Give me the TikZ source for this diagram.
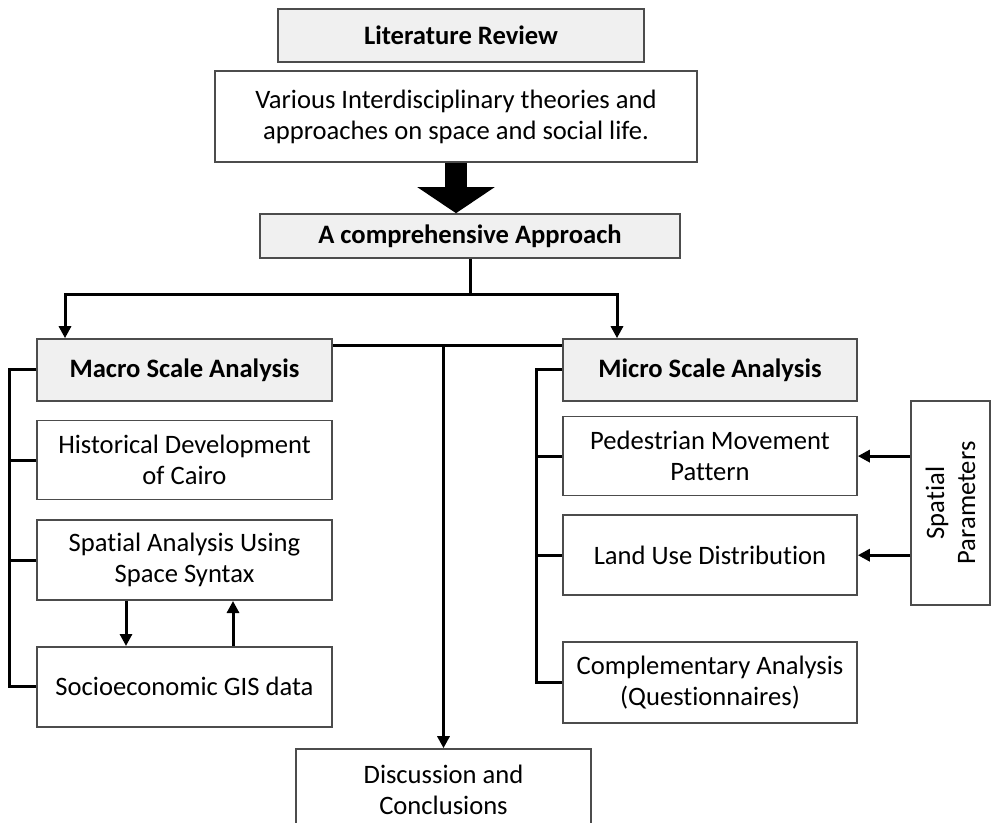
\documentclass[tikz,border=0pt]{standalone}
\usepackage{fontspec}
\setmainfont{Carlito}[Ligatures=NoCommon]
\usetikzlibrary{positioning, arrows.meta, calc}

\begin{document}
\begin{tikzpicture}[x=0.5pt, y=-0.5pt,
    box/.style={draw=black!70, line width=0.8pt, align=center, inner sep=2pt,
        font=\fontsize{13.3}{15.5}\selectfont},
    headbox/.style={box, fill=black!6, font=\bfseries\fontsize{13.3}{15.5}\selectfont},
    conn/.style={line width=1.5pt},
    arr/.style={conn, -{Triangle[length=6pt, width=6pt]}}]
    \useasboundingbox (0,0) rectangle (991,823);

    % Literature part
    \node[headbox, minimum width=183pt, minimum height=26.5pt] (lit) at (461,35.5) {Literature Review};
    \node[box, minimum width=241pt, minimum height=45.5pt] (various) at (456,116.5)
        {Various Interdisciplinary theories and\\approaches on space and social life.};
    \node[headbox, minimum width=210pt, minimum height=22pt] (comp) at (470,236) {A comprehensive Approach};

    % Macro scale column
    \node[headbox, minimum width=147.5pt, minimum height=31pt] (macro) at (184.5,370) {Macro Scale Analysis};
    \node[box, minimum width=147.5pt, minimum height=39.5pt, below=9pt of macro] (hist) {Historical Development\\of Cairo};
    \node[box, minimum width=147.5pt, minimum height=40pt, below=9.5pt of hist] (spat) {Spatial Analysis Using\\Space Syntax};
    \node[box, minimum width=147.5pt, minimum height=40pt, below=22.5pt of spat] (socio) {Socioeconomic GIS data};

    % Micro scale column
    \node[headbox, minimum width=147pt, minimum height=31pt] (micro) at (710,370) {Micro Scale Analysis};
    \node[box, minimum width=147pt, minimum height=39.5pt, below=7pt of micro] (ped) {Pedestrian Movement\\Pattern};
    \node[box, minimum width=147pt, minimum height=40pt, below=9pt of ped] (land) {Land Use Distribution};
    \node[box, minimum width=147pt, minimum height=40.5pt, below=22.5pt of land] (comple) {Complementary Analysis\\(Questionnaires)};

    \node[box, rotate=90, minimum width=102pt, minimum height=39.5pt] (params) at (950.5,503) {Spatial\\Parameters};
    \node[box, minimum width=147.5pt, minimum height=41pt] (disc) at (443.5,790) {Discussion and\\Conclusions};

    % big arrow
    \draw[line width=11pt, -{Triangle[length=13pt, width=38pt]}] (various.south) -- (various.south |- comp.north);

    % split into the two scales
    \draw[conn] (comp.south) -- ++(0,36) coordinate (fork);
    \draw[arr] (fork) -| ([xshift=-59.75pt]macro.north);
    \draw[arr] (fork) -| ([xshift=-46.5pt]micro.north);

    % link to discussion
    \coordinate (link) at ($(macro.north east)+(0,7)$);
    \draw[conn] (link) -- (link -| micro.west);
    \draw[arr] (link -| disc.north) -- (disc.north);

    % brackets
    \draw[conn] (macro.west) -- ++(-27,0) coordinate (lbr) |- (socio.west);
    \foreach \n in {hist, spat}
        \draw[conn] (\n.west) -- (\n.west -| lbr);
    \draw[conn] (micro.west) -- ++(-26,0) coordinate (rbr) |- (comple.west);
    \foreach \n in {ped, land}
        \draw[conn] (\n.west) -- (\n.west -| rbr);

    \draw[arr] ([xshift=-29.25pt]spat.south) -- ([xshift=-29.25pt]socio.north);
    \draw[arr] ([xshift=24.25pt]socio.north) -- ([xshift=24.25pt]spat.south);

    \draw[arr] (params.north |- ped.east) -- (ped.east);
    \draw[arr] (params.north |- land.east) -- (land.east);
\end{tikzpicture}
\end{document}
